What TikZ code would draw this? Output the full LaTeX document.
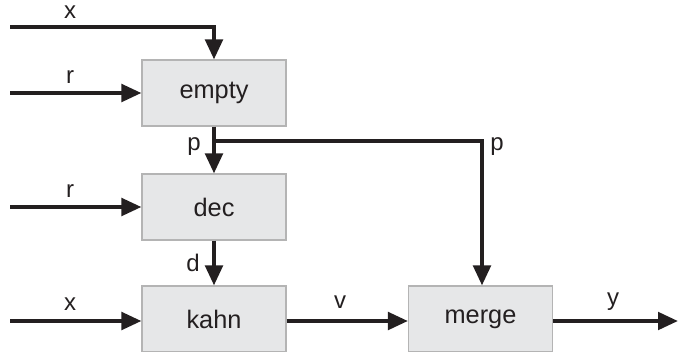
\documentclass[tikz,border=0pt]{standalone}
\usepackage{fontspec}
\setmainfont{Liberation Sans}
\usetikzlibrary{arrows.meta}
\definecolor{boxfill}{HTML}{E6E7E8}
\definecolor{boxline}{HTML}{B4B4B4}
\definecolor{ink}{HTML}{231F20}
\begin{document}
\begin{tikzpicture}[x=0.75pt,y=-0.75pt]
            \tikzstyle{blk}=[rectangle, draw=boxline, fill=boxfill, line width=0.8pt,
            minimum width=108pt, minimum height=49.5pt, inner sep=0pt,
            text=ink, font=\fontsize{19}{22}\selectfont]
            \tikzstyle{sig}=[line width=3pt, draw=ink,
            -{Triangle[length=15pt,width=13pt]}]
            \tikzstyle{lbl}=[text=ink, inner sep=0pt, font=\fontsize{18}{21}\selectfont]
            \useasboundingbox (0,0) rectangle (678,351);
            \node[blk] (empty) at (214,93) {empty};
            \node[blk] (dec) at (214,207) {dec};
            \node[blk] (kahn) at (214,319) {kahn};
            \node[blk] (merge) at (480.5,319) {merge};
            \coordinate (xa) at (10,27);
            \coordinate (ra) at (10,93);
            \coordinate (rb) at (10,207);
            \coordinate (xb) at (10,321);
            \coordinate (yo) at (678,321);
            \coordinate (pb) at (214,141);
            \coordinate (pc) at (482,141);
            \draw[sig] (xa) -| (empty.north);
            \draw[sig] (ra) -- (ra -| empty.west);
            \draw[sig] (empty.south) -- (dec.north);
            \draw[sig] (pb) -| (pc |- merge.north);
            \draw[sig] (rb) -- (rb -| dec.west);
            \draw[sig] (dec.south) -- (kahn.north);
            \draw[sig] (xb) -- (xb -| kahn.west);
            \draw[sig] (kahn.east |- xb) -- (merge.west |- xb);
            \draw[sig] (merge.east |- xb) -- (yo);
            \node[lbl] (lx1) at (70,12) {x};
            \node[lbl] (lr1) at (70,77) {r};
            \node[lbl] (lp1) at (194,147) {p};
            \node[lbl] (lp2) at (497,147) {p};
            \node[lbl] (lr2) at (70,191) {r};
            \node[lbl] (ld) at (193,263) {d};
            \node[lbl] (lx2) at (70,304) {x};
            \node[lbl] (lv) at (340,302) {v};
            \node[lbl] (ly) at (613,302) {y};
        \end{tikzpicture}
\end{document}
